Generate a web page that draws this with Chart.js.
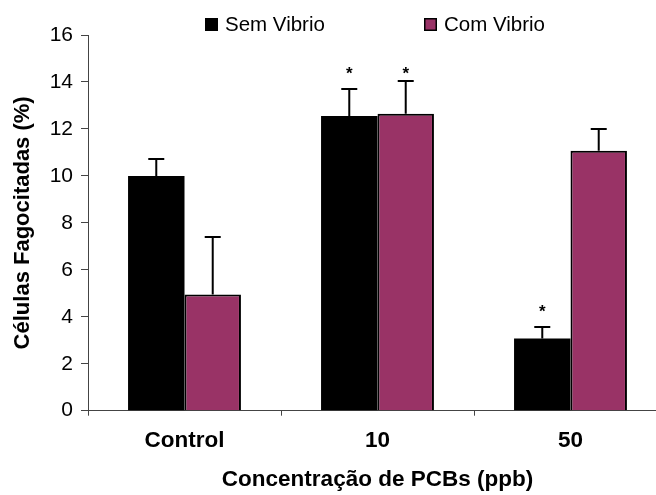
<!DOCTYPE html>
<html>
<head>
<meta charset="utf-8">
<script src="https://cdn.jsdelivr.net/npm/chart.js@4/dist/chart.umd.min.js"></script>
<style>
    html, body { margin: 0; padding: 0; background: #fff; overflow: hidden; }
    #wrap { width: 680px; height: 495px; }
</style>
</head>
<body>
<div id="wrap"><canvas id="chart" width="680" height="495"></canvas></div>
<script>
/* =========================
   DATA
========================= */

const categories = ["Control", "10", "50"];
const seriesNames = ["Sem Vibrio", "Com Vibrio"];

const semVibrio = [10.0, 12.55, 3.08];
const semVibrioErr = [0.72, 1.15, 0.48];
const semVibrioStar = [null, 14.48, 4.36];

const comVibrio = [4.95, 12.65, 11.07];
const comVibrioErr = [2.45, 1.39, 0.93];
const comVibrioStar = [null, 14.48, null];

const yTicks = [0, 2, 4, 6, 8, 10, 12, 14, 16];

const errors = [semVibrioErr, comVibrioErr];
const stars = [semVibrioStar, comVibrioStar];

const FONT = "'Liberation Sans', Arial, Helvetica, sans-serif";
const PINK = "#993366";

Chart.defaults.font.family = FONT;
Chart.defaults.color = "#000";

/* =========================
   PLUGINS
========================= */

// upward error bars + significance stars
const errorBars = {
    id: "errorBars",
    afterDatasetsDraw(chart) {
        const ctx = chart.ctx;
        const y = chart.scales.y;

        chart.data.datasets.forEach((ds, i) => {
            const meta = chart.getDatasetMeta(i);
            meta.data.forEach((bar, j) => {
                const top = y.getPixelForValue(ds.data[j] + errors[i][j]);

                ctx.save();
                ctx.strokeStyle = "#000";
                ctx.lineWidth = 2;
                ctx.beginPath();
                ctx.moveTo(bar.x, bar.y);
                ctx.lineTo(bar.x, top);
                ctx.moveTo(bar.x - 8, top);
                ctx.lineTo(bar.x + 8, top);
                ctx.stroke();

                if (stars[i][j] != null) {
                    ctx.fillStyle = "#000";
                    ctx.font = "bold 17px " + FONT;
                    ctx.textAlign = "center";
                    ctx.textBaseline = "middle";
                    ctx.fillText("*", bar.x, y.getPixelForValue(stars[i][j]) + 4);
                }
                ctx.restore();
            });
        });
    }
};

// legend drawn above the plot
const topLegend = {
    id: "topLegend",
    afterDraw(chart) {
        const ctx = chart.ctx;
        const area = chart.chartArea;
        const mid = (area.left + area.right) / 2;
        const startX = [mid - 172.5, mid + 46.5];

        chart.data.datasets.forEach((ds, i) => {
            const x = startX[i];
            ctx.save();
            ctx.fillStyle = ds.backgroundColor;
            ctx.fillRect(x, 18, 13, 13);
            ctx.strokeStyle = "#000";
            ctx.lineWidth = 1.5;
            ctx.strokeRect(x + 0.75, 18.75, 11.5, 11.5);

            ctx.fillStyle = "#000";
            ctx.font = "20.5px " + FONT;
            ctx.textAlign = "left";
            ctx.textBaseline = "alphabetic";
            ctx.fillText(ds.label, x + 20, 31);
            ctx.restore();
        });
    }
};

/* =========================
   CHART
========================= */

new Chart(document.getElementById("chart"), {
    type: "bar",
    data: {
        labels: categories,
        datasets: [
            {
                label: seriesNames[0],
                data: semVibrio,
                backgroundColor: "#000",
                borderColor: "#000",
                borderWidth: 0,
                categoryPercentage: 0.585,
                barPercentage: 1.0
            },
            {
                label: seriesNames[1],
                data: comVibrio,
                backgroundColor: PINK,
                borderColor: "#000",
                borderWidth: 2,
                categoryPercentage: 0.585,
                barPercentage: 1.0
            }
        ]
    },
    options: {
        responsive: false,
        animation: false,
        layout: { padding: { top: 35, right: 13, left: 0, bottom: 0 } },
        plugins: {
            legend: { display: false },
            tooltip: { enabled: false }
        },
        scales: {
            x: {
                grid: {
                    drawOnChartArea: false,
                    drawTicks: true,
                    tickLength: 5,
                    tickWidth: 1,
                    color: "#444",
                    offset: true
                },
                border: { display: true, color: "#444", width: 1 },
                ticks: {
                    color: "#000",
                    padding: 12,
                    font: { size: 22.5, weight: "bold" }
                },
                title: {
                    display: true,
                    text: "Concentração de PCBs (ppb)",
                    color: "#000",
                    font: { size: 22.5, weight: "bold" },
                    padding: { top: 0, bottom: 2 }
                },
                afterFit(scale) { scale.height = 84.3; }
            },
            y: {
                min: 0,
                max: 16,
                afterBuildTicks(scale) {
                    scale.ticks = yTicks.map(v => ({ value: v }));
                },
                grid: {
                    drawOnChartArea: false,
                    drawTicks: true,
                    tickLength: 7,
                    color: "#444"
                },
                border: { display: true, color: "#444", width: 1 },
                ticks: {
                    color: "#000",
                    padding: 8,
                    font: { size: 21 }
                },
                title: {
                    display: true,
                    text: "Células Fagocitadas (%)",
                    color: "#000",
                    font: { size: 22, weight: "bold" },
                    padding: { top: 10, bottom: 0 }
                },
                afterFit(scale) { scale.width = 88; }
            }
        }
    },
    plugins: [errorBars, topLegend]
});
</script>
</body>
</html>
